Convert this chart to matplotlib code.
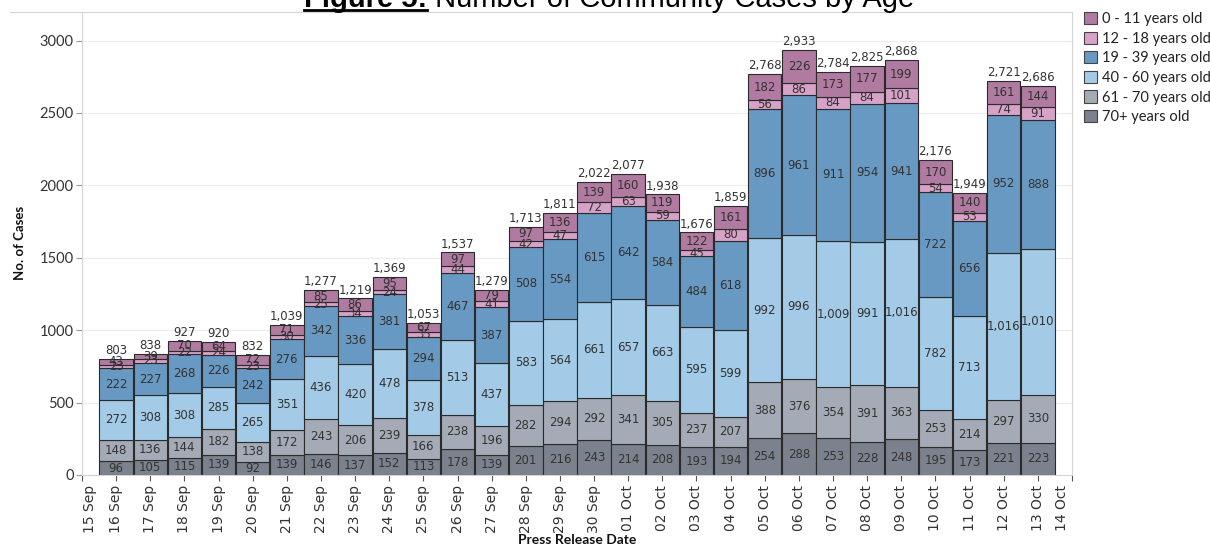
import matplotlib
matplotlib.use("Agg")
import matplotlib.pyplot as plt
import matplotlib.transforms as mtransforms
from matplotlib.lines import Line2D
from matplotlib.patches import Patch
import numpy as np

# Press release dates on the axis (15 Sep .. 14 Oct); bars are 16 Sep .. 13 Oct
tick_labels = [f"{d} Sep" for d in range(15, 31)] + [f"{d:02d} Oct" for d in range(1, 15)]
bar_dates = tick_labels[1:-1]

age_groups = ["70+ years old", "61 - 70 years old", "40 - 60 years old",
              "19 - 39 years old", "12 - 18 years old", "0 - 11 years old"]

age_70_plus = [96, 105, 115, 139, 92, 139, 146, 137, 152, 113, 178, 139, 201, 216,
               243, 214, 208, 193, 194, 254, 288, 253, 228, 248, 195, 173, 221, 223]
age_61_70 = [148, 136, 144, 182, 138, 172, 243, 206, 239, 166, 238, 196, 282, 294,
             292, 341, 305, 237, 207, 388, 376, 354, 391, 363, 253, 214, 297, 330]
age_40_60 = [272, 308, 308, 285, 265, 351, 436, 420, 478, 378, 513, 437, 583, 564,
             661, 657, 663, 595, 599, 992, 996, 1009, 991, 1016, 782, 713, 1016, 1010]
age_19_39 = [222, 227, 268, 226, 242, 276, 342, 336, 381, 294, 467, 387, 508, 554,
             615, 642, 584, 484, 618, 896, 961, 911, 954, 941, 722, 656, 952, 888]
age_12_18 = [23, 23, 22, 24, 23, 30, 25, 34, 24, 35, 44, 41, 42, 47,
             72, 63, 59, 45, 80, 56, 86, 84, 84, 101, 54, 53, 74, 91]
age_0_11 = [43, 39, 70, 64, 72, 71, 85, 86, 95, 67, 97, 79, 97, 136,
            139, 160, 119, 122, 161, 182, 226, 173, 177, 199, 170, 140, 161, 144]
totals = [803, 838, 927, 920, 832, 1039, 1277, 1219, 1369, 1053, 1537, 1279, 1713, 1811,
          2022, 2077, 1938, 1676, 1859, 2768, 2933, 2784, 2825, 2868, 2176, 1949, 2721, 2686]

colors = ["#7b818d", "#a4abb7", "#a3cbe7", "#6899c2", "#d7a2c8", "#b07aa1"]

W, H = 1210, 546
fig = plt.figure(figsize=(W / 100, H / 100), dpi=100)
ax = fig.add_axes([82 / W, 1 - 475 / H, (1072 - 82) / W, (475 - 12) / H])

x = np.arange(1, len(bar_dates) + 1)
series = [age_70_plus, age_61_70, age_40_60, age_19_39, age_12_18, age_0_11]
bottom = np.zeros(len(x))
for vals, col in zip(series, colors):
    vals = np.array(vals)
    ax.bar(x, vals, bottom=bottom, width=0.98, color=col, edgecolor="#2b2b2b",
           linewidth=0.8, zorder=2)
    for xi, b, v in zip(x, bottom, vals):
        ax.text(xi, b + v / 2, f"{v:,}", ha="center", va="center", fontsize=8.5,
                color="#333333", zorder=3)
    bottom = bottom + vals

for xi, top, t in zip(x, bottom, totals):
    ax.text(xi, top + 12, f"{t:,}", ha="center", va="bottom", fontsize=8.5,
            color="#333333", zorder=3)

ax.set_xlim(0, len(tick_labels) - 1)
ax.set_ylim(0, 3197)
ax.set_yticks(range(0, 3001, 500))
ax.set_yticklabels([str(v) for v in range(0, 3001, 500)], family="Lato",
                   fontsize=10.5, color="#333333")
ax.set_xticks(range(len(tick_labels)))
ax.set_xticklabels(tick_labels, rotation=90, fontsize=10, color="#333333")
ax.tick_params(axis="y", length=4, color="#999999", pad=2)
ax.tick_params(axis="x", length=4, color="#555555", pad=3)

# nudge the edge labels inwards like the original
labels = ax.get_xticklabels()
labels[0].set_transform(labels[0].get_transform() +
                        mtransforms.ScaledTranslation(8 / 100, 0, fig.dpi_scale_trans))
labels[-1].set_transform(labels[-1].get_transform() +
                         mtransforms.ScaledTranslation(-10 / 100, 0, fig.dpi_scale_trans))

ax.yaxis.grid(True, color="#ececec", linewidth=0.8, zorder=0)
ax.set_axisbelow(True)
for side in ["left", "right", "bottom"]:
    ax.spines[side].set_color("#d4d4d4")
    ax.spines[side].set_linewidth(0.8)
ax.spines["top"].set_visible(False)

fig.add_artist(Line2D([10 / W, 1072 / W], [1 - 12 / H, 1 - 12 / H],
                      color="#d4d4d4", linewidth=0.8))

fig.text(20 / W, 1 - 243 / H, "No. of Cases", rotation=90, ha="center", va="center",
         family="Lato", fontweight="bold", fontsize=9.5, color="#111111")
fig.text(577 / W, 1 - 540 / H, "Press Release Date", ha="center", va="center",
         family="Lato", fontweight="bold", fontsize=10, color="#111111")

# title: bold underlined prefix, then plain text
renderer = fig.canvas.get_renderer()
t1 = fig.text(304 / W, 1 - 7 / H, "Figure 5:", ha="left", va="baseline",
              family="Liberation Sans", fontweight="bold", fontsize=21, color="black")
bb = t1.get_window_extent(renderer)
fig.text(bb.x1 / W, 1 - 7 / H, " Number of Community Cases by Age", ha="left",
         va="baseline", family="Liberation Sans", fontsize=21, color="black")
fig.add_artist(Line2D([bb.x0 / W, bb.x1 / W], [1 - 10 / H, 1 - 10 / H],
                      color="black", linewidth=2))

handles = [Patch(facecolor=c, edgecolor="#444444", linewidth=0.8)
           for c in colors[::-1]]
fig.legend(handles, age_groups[::-1], loc="upper left",
           bbox_to_anchor=(1084 / W, 1 - 12 / H), frameon=False,
           prop={"family": "Lato", "size": 10.5}, handlelength=0.9,
           handleheight=0.9, handletextpad=0.3, labelspacing=0.38,
           borderpad=0, borderaxespad=0, labelcolor="#222222")

fig.savefig("out.png", dpi=100)
